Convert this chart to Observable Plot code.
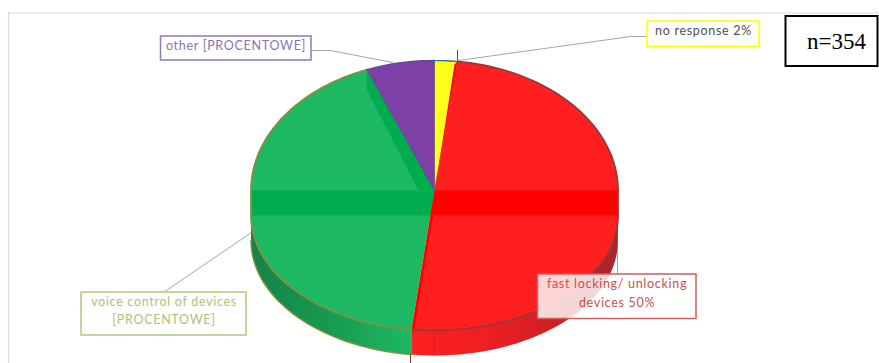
<!DOCTYPE html>
<html>
<head>
<meta charset="utf-8">
<style>html,body{margin:0;padding:0;background:#fff;overflow:hidden}svg{display:block}.tag text{letter-spacing:.7px}</style>
<script src="https://cdn.jsdelivr.net/npm/d3@7"></script>
<script src="https://cdn.jsdelivr.net/npm/@observablehq/plot@0.6"></script>
</head>
<body>
<script>
// Survey answers, in clockwise order from twelve o'clock.
const categories = ["no response", "fast locking/ unlocking devices", "voice control of devices", "other"];
const shares = [2, 50, 42, 6];
const valueLabels = ["2%", "50%", "[PROCENTOWE]", "[PROCENTOWE]"];
const sampleNote = "n=354";

// Pie geometry in chart units: the face is split by a horizontal band.
const W = 879, H = 363;
const CX = 434, CY = 190, RX = 183.5, RY_BACK = 130, BAND = 25, RY_FRONT = 115, DEPTH = 25;

const rim = (deg, drop = 0) => {
  const a = deg * Math.PI / 180, c = Math.cos(a);
  return {
    x: CX + RX * Math.sin(a),
    y: (c >= 0 ? CY - RY_BACK * c : CY + BAND - RY_FRONT * c) + drop
  };
};
const arc = (from, to, drop = 0) => {
  const steps = Math.max(2, Math.ceil(Math.abs(to - from) / 2));
  const pts = d3.range(steps + 1).map(i => from + (to - from) * i / steps);
  // The rim jumps across the band at 90° and 270°, so keep both sides of the jump.
  const out = [];
  for (const deg of pts) {
    for (const q of [90, 270]) {
      const prev = out.lastDeg;
      if (prev !== undefined && (prev - q) * (deg - q) < 0) {
        out.push({x: CX + RX * Math.sin(q * Math.PI / 180), y: (to > from === (q === 90) ? CY : CY + BAND) + drop});
        out.push({x: CX + RX * Math.sin(q * Math.PI / 180), y: (to > from === (q === 90) ? CY + BAND : CY) + drop});
      }
    }
    out.push(rim(deg, drop));
    out.lastDeg = deg;
  }
  return out;
};

const cumulative = d3.cumsum(shares).map(v => v * 3.6);
const [yellowEnd, redEnd, greenEnd] = cumulative;
const centre = {x: CX, y: CY};
const along = (p, y) => ({x: CX + (p.x - CX) * (y - CY) / (p.y - CY), y});

const colors = {
  yellow: "#ffff1e", red: "#ff1f1f", redBand: "#ff0000", green: "#1db862", greenBand: "#00ad4e",
  purple: "#7c40a6", redEdge: "#97393b", greenEdge: "#83913f", purpleEdge: "#5e4890"
};

const poly = (points, fill, stroke = "none", strokeWidth = 1.5) =>
  Plot.line(points, {x: "x", y: "y", fill, stroke, strokeWidth, curve: "linear"});

const wedge = (from, to) => [centre, ...arc(from, to), centre];
const spokeEnd = rim(redEnd);
const bandSplit = along(spokeEnd, CY + BAND);

// Horizontal gradients for the cylinder wall.
const gradients = () => {
  const defs = d3.create("svg:defs");
  const add = (id, stops) => {
    const g = defs.append("linearGradient").attr("id", id);
    for (const [o, c] of stops) g.append("stop").attr("offset", o).attr("stop-color", c);
  };
  add("wall-green", [[0, "#15824a"], [0.45, "#16994f"], [1, "#1db862"]]);
  add("wall-red", [[0, "#ff1f1f"], [0.35, "#f01f22"], [0.75, "#c81f26"], [1, "#a8262c"]]);
  return defs.node();
};

const wall = (from, to) => [...arc(from, to), ...arc(to, from, DEPTH)].concat(rim(from));

const leaders = [
  [{x: 311, y: 50}, {x: 330, y: 50}, {x: 392, y: 62}],
  [{x: 647, y: 36}, {x: 630, y: 36}, {x: 458, y: 60}],
  [{x: 163, y: 292}, {x: 251, y: 232}],
  [{x: 617, y: 274}, {x: 617, y: 253}, {x: 615, y: 232}]
];

const tag = (x1, y1, x2, y2, lines, cx, ty, color, text, fillOpacity = 1) => [
  Plot.rect([0], {x1: () => x1, x2: () => x2, y1: () => y1, y2: () => y2, fill: "#fff", fillOpacity, stroke: color, strokeWidth: 1.5}),
  Plot.text([lines], {x: () => cx, y: () => ty, text: d => d, fill: text, fontSize: 12.5, fontFamily: "Lato, 'Open Sans', sans-serif", lineHeight: 1.46, lineAnchor: "top", className: "tag"})
];

const chart = Plot.plot({
  width: W, height: H, margin: 0,
  x: {domain: [0, W], range: [0, W], axis: null},
  y: {domain: [0, H], range: [0, H], axis: null},
  style: {background: "#fff", overflow: "hidden"},
  marks: [
    gradients,
    // chart frame
    Plot.ruleY([12.5], {x1: 8, x2: W, stroke: "#d9d9d9", strokeWidth: 1.2}),
    Plot.ruleX([8], {y1: 12.5, y2: H, stroke: "#d9d9d9", strokeWidth: 1.2}),
    // leader lines
    ...leaders.map(l => Plot.line(l, {x: "x", y: "y", stroke: "#a6a6a6", strokeWidth: 1})),
    // wall
    poly(wall(redEnd, 270), "url(#wall-green)"),
    poly(wall(90, redEnd), "url(#wall-red)"),
    Plot.line(arc(270, redEnd, DEPTH), {x: "x", y: "y", stroke: colors.greenEdge, strokeWidth: 1.5}),
    Plot.ruleX([CX], {y1: CY + BAND, y2: rim(180, DEPTH).y, stroke: "#e01b1b", strokeWidth: 1.2}),
    // faces
    poly(wedge(0, yellowEnd), colors.yellow, "#8f8f30", 1),
    poly(wedge(yellowEnd, redEnd), colors.red),
    poly(wedge(redEnd, greenEnd), colors.green),
    poly(wedge(greenEnd, 360), colors.purple),
    // centre band
    poly([{x: CX - RX, y: CY}, centre, bandSplit, {x: CX - RX, y: CY + BAND}], colors.greenBand),
    poly([centre, {x: CX + RX, y: CY}, {x: CX + RX, y: CY + BAND}, bandSplit], colors.redBand),
    // exposed cut walls beside the spokes
    poly([rim(greenEnd), {x: rim(greenEnd).x, y: rim(greenEnd).y + 20}, {x: CX - 16, y: CY}, centre], colors.greenBand),
    poly([rim(yellowEnd), {x: rim(yellowEnd).x - 3, y: rim(yellowEnd).y + 3}, along(rim(yellowEnd), CY - 18), centre], colors.redBand),
    Plot.line([bandSplit, spokeEnd].map(p => ({x: p.x + 1.5, y: p.y})), {x: "x", y: "y", stroke: colors.redBand, strokeWidth: 2.5}),
    // rim outlines
    Plot.line([...arc(yellowEnd, redEnd)], {x: "x", y: "y", stroke: colors.redEdge, strokeWidth: 1.8}),
    Plot.line([...arc(redEnd, greenEnd)], {x: "x", y: "y", stroke: colors.greenEdge, strokeWidth: 1.8}),
    Plot.line([...arc(greenEnd, 360)], {x: "x", y: "y", stroke: colors.purpleEdge, strokeWidth: 1.4}),
    Plot.line(arc(0, yellowEnd), {x: "x", y: "y", stroke: "#2f6a9f", strokeWidth: 1.2}),
    Plot.line([centre, rim(greenEnd)], {x: "x", y: "y", stroke: colors.purpleEdge, strokeWidth: 1}),
    Plot.line([spokeEnd, rim(redEnd, DEPTH)], {x: "x", y: "y", stroke: colors.greenEdge, strokeWidth: 1.2}),
    // small data-label ticks at the rim
    Plot.ruleX([rim(yellowEnd).x], {y1: rim(yellowEnd).y - 11, y2: rim(yellowEnd).y, stroke: colors.redEdge, strokeWidth: 1}),
    Plot.ruleX([rim(redEnd).x - 1], {y1: rim(redEnd, DEPTH).y, y2: H, stroke: colors.redEdge, strokeWidth: 1}),
    // labels
    ...tag(160.5, 36, 311, 60, `${categories[3]} ${valueLabels[3]}`, 235.5, 36.5, "#8e78b8", "#8a74b4"),
    ...tag(647, 21, 759, 46.5, `${categories[0]} ${valueLabels[0]}`, 703, 22, "#ffff00", "#505050"),
    ...tag(81, 292, 246, 335, `${categories[2]}\n${valueLabels[2]}`, 163.5, 292.5, "#afc97f", "#a9c47a"),
    ...tag(537.5, 274, 696, 318.5, `fast locking/ unlocking\ndevices ${valueLabels[1]}`, 616.5, 275, "#cc5f5c", "#c4514e", 0.82),
    // sample size box
    Plot.rect([0], {x1: () => 785.5, x2: () => 877.5, y1: () => 16, y2: () => 66, fill: "#fff", stroke: "#000", strokeWidth: 2}),
    Plot.text([sampleNote], {x: () => 836, y: () => 41, text: d => d, fontSize: 23, fontFamily: "'Liberation Serif', serif", fill: "#000"})
  ]
});
document.body.appendChild(chart);
</script>
</body>
</html>
